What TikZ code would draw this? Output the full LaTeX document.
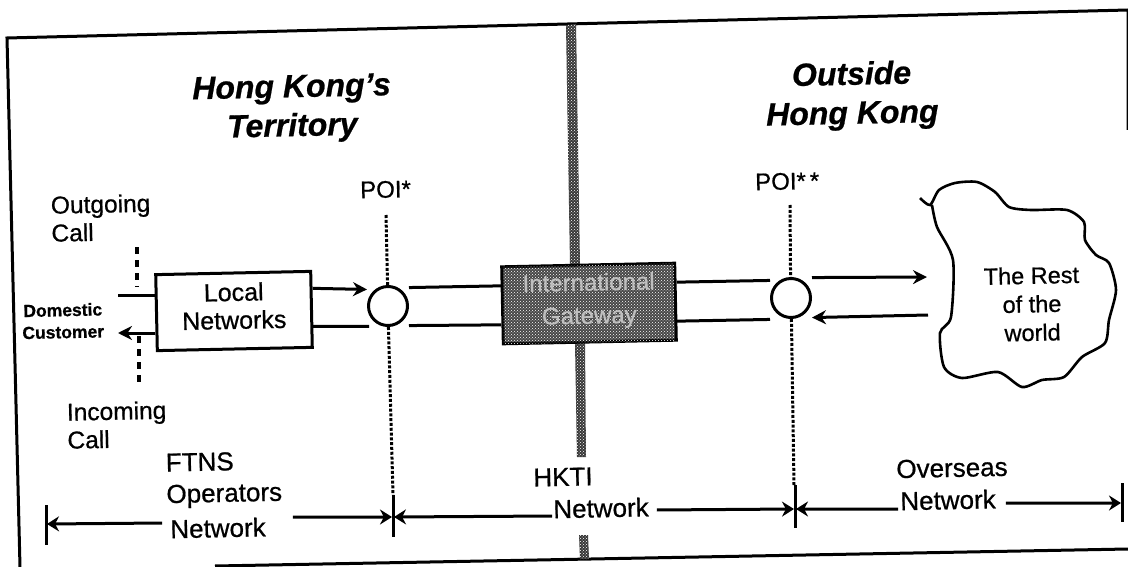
\documentclass[tikz,border=0pt]{standalone}
\usepackage{fontspec}
\setmainfont{Liberation Sans}[RawFeature={embolden=0.7}]
\usetikzlibrary{arrows.meta,patterns}
\newcommand{\fs}[2]{\fontsize{#1}{#2}\selectfont}
\tikzset{
  every node/.style={rotate=1.2,inner sep=0pt,text=black},
  ln/.style={line width=3pt,black},
  arr/.style={ln,-{Stealth[length=14pt,width=14pt]}},
  dimarr/.style={ln,-{Stealth[length=12pt,width=15pt]}},
  frm/.style={line width=3pt,black},
  tick/.style={line width=3pt,black},
  poidot/.style={line width=3pt,black,dash pattern=on 3pt off 1.8pt},
  calldash/.style={line width=3.2pt,black,dash pattern=on 7pt off 6pt},
  hatch/.style={pattern=crosshatch dots,pattern color=white},
  lbl/.style={align=center,font=\fs{25}{28}},
  head/.style={align=center,font=\fs{32}{39}\bfseries\itshape},
  junction/.style={circle,draw=black,line width=3pt,fill=white,minimum size=39pt},
}
\begin{document}
\begin{tikzpicture}[x=1pt,y=-1pt]
\useasboundingbox (0,0) rectangle (1128,567);
\fill[white] (0,0) rectangle (1128,567);
% frame
\draw[frm] (1128,130) -- (1128,10) -- (7,38) -- (20,567);
\draw[frm] (215,566) -- (1128,549);
% border between territories
\fill[black!78] (566,25) -- (576,24) -- (580,265) -- (570,265) -- cycle;
\fill[hatch] (566,25) -- (576,24) -- (580,265) -- (570,265) -- cycle;
\fill[black!78] (575,343) -- (585,343) -- (586,457) -- (577,457) -- cycle;
\fill[hatch] (575,343) -- (585,343) -- (586,457) -- (577,457) -- cycle;
\fill[black!78] (579,535) -- (588,535) -- (589,559) -- (580,559) -- cycle;
\fill[hatch] (579,535) -- (588,535) -- (589,559) -- (580,559) -- cycle;
% headings
\node[head] (hk) at (292,109) {Hong Kong's\\Territory};
\node[head] (out) at (852,96) {Outside\\Hong Kong};
% main blocks
\node[draw=black,line width=3pt,fill=white,minimum width=155pt,minimum height=76pt] (local) at (234,311) {};
\node[lbl] (localtxt) at (234,306) {Local\\Networks};
\node[draw=black,line width=3pt,fill=black!72,minimum width=173pt,minimum height=77pt] (gw) at (589,303.5) {};
\fill[hatch] (503,267) -- (674,263.5) -- (675,341) -- (504,344) -- cycle;
\node[lbl,text=black!25,font=\fs{24}{33}] (gwtxt) at (589,301) {International\\Gateway};
\node[junction] (c1) at (388,306) {};
\node[junction] (c2) at (791,298) {};
% POI lines
\node[anchor=west,font=\fs{24}{28}] (poi1) at (360,190) {POI*};
\node[anchor=west,font=\fs{24}{28}] (poi2) at (755,182) {POI*\,*};
\coordinate (p1top) at (386,215);
\coordinate (p1bot) at (393,495);
\coordinate (p2top) at (790,205);
\coordinate (p2bot) at (794,485);
\draw[poidot] (p1top) -- (c1.north);
\draw[poidot] (c1.south) -- (p1bot);
\draw[poidot] (p2top) -- (c2.north);
\draw[poidot] (c2.south) -- (p2bot);
% customer side
\node[anchor=west,align=left,font=\fs{24.5}{28}] (outg) at (51,219) {Outgoing\\Call};
\node[anchor=west,align=left,font=\fs{24.5}{28}] (inc) at (67,426) {Incoming\\Call};
\node[align=center,font=\fs{17.5}{22}\bfseries] (cust) at (63,321) {Domestic\\Customer};
\coordinate (custin) at (118,295);
\coordinate (custout) at (118,333);
\coordinate (dashA) at (137,247);
\coordinate (dashAe) at (137,287);
\coordinate (dashB) at (139,336);
\coordinate (dashBe) at (139,386);
\draw[ln] (custin) -- (custin -| local.west);
\draw[arr] (custout -| local.west) -- (custout);
\draw[calldash] (dashA) -- (dashAe);
\draw[calldash] (dashB) -- (dashBe);
% local <-> POI <-> gateway
\draw[arr] ([yshift=21pt]local.east) -- ([yshift=17pt]c1.west);
\draw[ln] ([yshift=-17pt]local.east) -- ([xshift=2pt,yshift=-20pt]c1.west);
\draw[ln] ([yshift=18pt]c1.east) -- ([yshift=19.5pt]gw.west);
\draw[ln] ([yshift=-20pt]c1.east) -- ([yshift=-19.5pt]gw.west);
\draw[ln] ([yshift=19.5pt]gw.east) -- ([yshift=18pt]c2.west);
\draw[ln] ([yshift=-19.5pt]gw.east) -- ([yshift=-21pt]c2.west);
% rest of the world
\draw[line width=2.6pt,black] plot[smooth,tension=0.45] coordinates {
 (920,198) (930,205) (939,190) (955,183) (977,182) (995,192) (1009,207) (1031,210)
 (1067,210) (1084,222) (1085,240) (1096,255) (1109,263) (1116,290) (1109,320) (1105,343)
 (1082,357) (1064,377) (1042,380) (1022,387) (998,372) (962,378) (944,367) (940,333)
 (951,317) (953,260) (937,227) (932,205)};
\node[lbl,font=\fs{23.5}{28.5}] (rest) at (1032,304) {The Rest\\of the\\world};
\coordinate (worldout) at (927,277);
\coordinate (worldin) at (928,315);
\draw[arr] ([yshift=20pt]c2.east) -- (worldout);
\draw[arr] (worldin) -- ([yshift=-20pt]c2.east);
% bottom dimension labels
\node[anchor=west,align=left,font=\fs{26}{31.5}] (ftns) at (166,481) {FTNS\\Operators};
\node[font=\fs{26}{30}] (netF) at (218,528) {Network};
\node[font=\fs{26}{30}] (hkti) at (563,477) {HKTI};
\node[font=\fs{26}{30}] (netH) at (601,508) {Network};
\node[font=\fs{26}{30}] (over) at (952,468) {Overseas};
\node[font=\fs{26}{30}] (netO) at (948,500) {Network};
% ticks
\coordinate (tA1) at (46,505);
\coordinate (tA2) at (46,545);
\coordinate (tB1) at (393,495);
\coordinate (tB2) at (393,537);
\coordinate (tC1) at (795,485);
\coordinate (tC2) at (795,528);
\coordinate (tD1) at (1122,483);
\coordinate (tD2) at (1122,522);
\draw[tick] (tA1) -- (tA2);
\draw[tick] (tB1) -- (tB2);
\draw[tick] (tC1) -- (tC2);
\draw[tick] (tD1) -- (tD2);
\coordinate (mA) at (47,524);
\coordinate (mBl) at (392,517);
\coordinate (mBr) at (394,517);
\coordinate (mCl) at (794,509);
\coordinate (mCr) at (796,509);
\coordinate (mD) at (1121,503);
\draw[dimarr] ([xshift=-8pt,yshift=6pt]netF.west) -- (mA);
\draw[dimarr] ([xshift=27pt,yshift=10pt]netF.east) -- (mBl);
\draw[dimarr] ([xshift=-1pt,yshift=-7pt]netH.west) -- (mBr);
\draw[dimarr] ([xshift=8pt,yshift=-3pt]netH.east) -- (mCl);
\draw[dimarr] ([xshift=-2pt,yshift=-8pt]netO.west) -- (mCr);
\draw[dimarr] ([xshift=10pt,yshift=-4pt]netO.east) -- (mD);
\end{tikzpicture}
\end{document}
